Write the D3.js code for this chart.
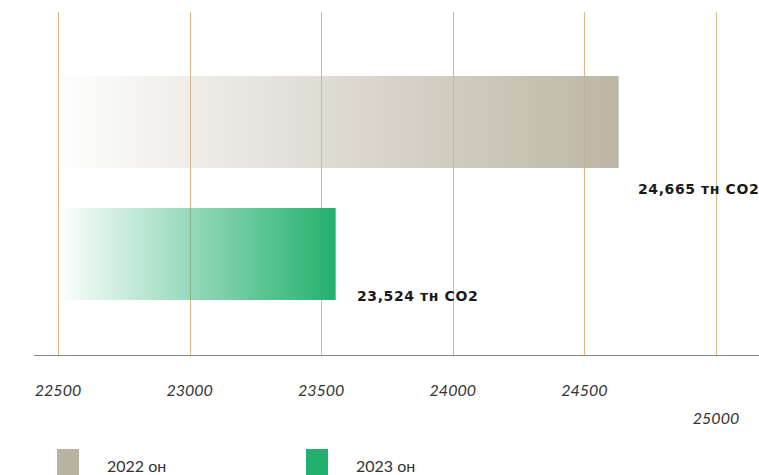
<!DOCTYPE html>
<html><head><meta charset="utf-8">
<script src="https://cdn.jsdelivr.net/npm/d3@7"></script>
<style>body{margin:0;background:#fff}svg{display:block}</style>
</head><body>
<svg id="c" width="759" height="475"></svg>
<script>
const categories = ["2022 он", "2023 он"];
const barValues = [24630, 23555];
const valueLabels = ["24,665 тн CO2", "23,524 тн CO2"];
const tickValues = [22500, 23000, 23500, 24000, 24500, 25000];
const tickLabels = ["22500", "23000", "23500", "24000", "24500", "25000"];
const colors = ["#bab3a2", "#23b06f"];

const svg = d3.select("#c");
const x = d3.scaleLinear().domain([22500, 25000]).range([58, 716]);
const y = d3.scaleBand().domain(categories).range([76, 300]).paddingInner(40 / 132).paddingOuter(0);

const defs = svg.append("defs");
categories.forEach((c, i) => {
  const g = defs.append("linearGradient").attr("id", "g" + i).attr("x1", "0").attr("x2", "1").attr("y1", "0").attr("y2", "0");
  g.append("stop").attr("offset", "0").attr("stop-color", colors[i]).attr("stop-opacity", 0.02);
  g.append("stop").attr("offset", "1").attr("stop-color", colors[i]).attr("stop-opacity", i === 0 ? 0.96 : 1);
});

// grid lines
svg.selectAll("line.grid").data(tickValues).enter().append("line")
  .attr("x1", d => Math.round(x(d)) + 0.5).attr("x2", d => Math.round(x(d)) + 0.5)
  .attr("y1", 12).attr("y2", 355)
  .attr("stroke", "#d9a870").attr("stroke-opacity", 0.85).attr("stroke-width", 1);

// bars
svg.selectAll("rect.bar").data(categories).enter().append("rect")
  .attr("class", "bar")
  .attr("x", x(22500) + 4)
  .attr("y", d => y(d))
  .attr("width", (d, i) => x(barValues[i]) - x(22500) - 4)
  .attr("height", y.bandwidth())
  .attr("fill", (d, i) => `url(#g${i})`);

// axis line
svg.append("line").attr("x1", 34).attr("x2", 759).attr("y1", 355.5).attr("y2", 355.5)
  .attr("stroke", "#8a8a8a").attr("stroke-width", 1);

// tick labels
svg.selectAll("text.tick").data(tickValues).enter().append("text")
  .attr("class", "tick")
  .attr("x", d => x(d))
  .attr("y", (d, i) => i === 5 ? 424 : 396)
  .attr("text-anchor", "middle")
  .attr("font-family", "Lato, 'Open Sans', sans-serif")
  .attr("font-style", "italic")
  .attr("font-size", 16)
  .attr("fill", "#333")
  .text((d, i) => tickLabels[i]);

// value labels
const labelPos = [[638, 194], [357, 301]];
svg.selectAll("text.val").data(valueLabels).enter().append("text")
  .attr("x", (d, i) => labelPos[i][0])
  .attr("y", (d, i) => labelPos[i][1])
  .attr("font-family", "'DejaVu Sans', sans-serif")
  .attr("font-weight", "bold")
  .attr("font-size", 14)
  .attr("letter-spacing", 0.6)
  .attr("fill", "#1a1a1a")
  .text(d => d);

// legend
const legX = [57, 306];
categories.forEach((c, i) => {
  svg.append("rect").attr("x", legX[i]).attr("y", 449).attr("width", 22).attr("height", 30).attr("fill", colors[i]);
  svg.append("text").attr("x", legX[i] + 50).attr("y", 472)
    .attr("font-family", "Lato, 'Open Sans', sans-serif")
    .attr("font-size", 16).attr("fill", "#333").text(c);
});
</script>
</body></html>
